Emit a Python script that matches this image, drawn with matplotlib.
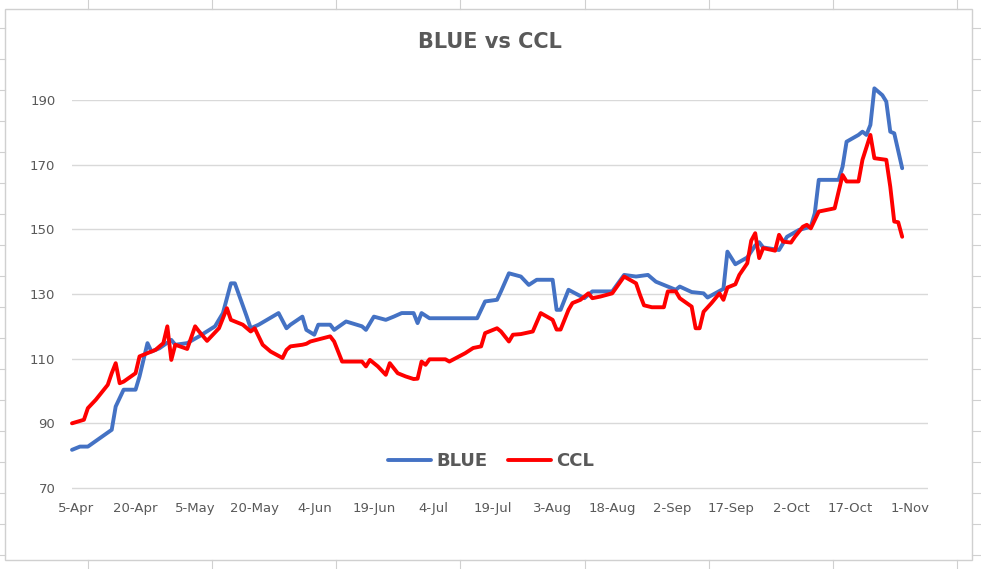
import numpy as np
import pandas as pd
import matplotlib
matplotlib.use("Agg")
import matplotlib.pyplot as plt
from matplotlib.patches import Rectangle
from matplotlib.lines import Line2D

# datos (año 2020, fechas MM-DD)
anio = 2020
fechas_blue = ["04-04", "04-06", "04-08", "04-11", "04-14", "04-15", "04-17", "04-20", "04-21", "04-23",
               "04-24", "04-26", "04-29", "04-30", "05-03", "05-06", "05-10", "05-12", "05-14", "05-15",
               "05-18", "05-19", "05-21", "05-26", "05-28", "05-29", "06-01", "06-02", "06-04", "06-05",
               "06-08", "06-09", "06-12", "06-16", "06-17", "06-19", "06-22", "06-24", "06-26", "06-29",
               "06-30", "07-01", "07-03", "07-15", "07-17", "07-20", "07-21", "07-23", "07-26", "07-28",
               "07-30", "08-03", "08-04", "08-05", "08-07", "08-11", "08-13", "08-18", "08-21", "08-24",
               "08-27", "08-29", "09-02", "09-03", "09-04", "09-07", "09-10", "09-11", "09-15", "09-16",
               "09-18", "09-21", "09-23", "09-24", "09-25", "09-29", "10-01", "10-04", "10-07", "10-08",
               "10-09", "10-14", "10-15", "10-16", "10-19", "10-20", "10-21", "10-22", "10-23", "10-25",
               "10-26", "10-27", "10-28", "10-30"]
valores_blue = [81.8, 82.8, 82.8, 85.4, 88.0, 95.2, 100.4, 100.4, 104.5, 114.8,
                112.2, 113.2, 115.8, 114.3, 114.8, 116.9, 120.0, 124.1, 133.3, 133.3,
                123.0, 119.4, 120.5, 124.1, 119.4, 120.5, 123.0, 118.9, 117.4, 120.5,
                120.5, 118.9, 121.5, 120.0, 118.9, 123.0, 122.0, 123.0, 124.1, 124.1,
                121.0, 124.1, 122.5, 122.5, 127.7, 128.2, 130.8, 136.4, 135.4, 132.8,
                134.4, 134.4, 125.1, 125.1, 131.3, 128.7, 130.8, 130.8, 135.9, 135.4,
                135.9, 133.8, 131.8, 131.3, 132.3, 130.6, 130.2, 128.9, 131.6, 143.1,
                139.2, 141.3, 145.0, 146.0, 144.4, 143.6, 147.7, 149.8, 150.8, 155.0,
                165.3, 165.3, 169.4, 177.1, 179.2, 180.2, 179.2, 182.3, 193.6, 191.5,
                189.5, 180.2, 179.7, 168.9]

fechas_ccl = ["04-04", "04-07", "04-08", "04-10", "04-13", "04-14", "04-15", "04-16", "04-17", "04-20",
              "04-21", "04-23", "04-25", "04-27", "04-28", "04-29", "04-30", "05-03", "05-05", "05-06",
              "05-08", "05-11", "05-12", "05-13", "05-14", "05-17", "05-19", "05-20", "05-22", "05-24",
              "05-27", "05-28", "05-29", "06-01", "06-02", "06-03", "06-08", "06-09", "06-11", "06-16",
              "06-17", "06-18", "06-20", "06-22", "06-23", "06-25", "06-27", "06-29", "06-30", "07-01",
              "07-02", "07-03", "07-07", "07-08", "07-12", "07-14", "07-16", "07-17", "07-20", "07-21",
              "07-23", "07-24", "07-26", "07-29", "07-31", "08-03", "08-04", "08-05", "08-07", "08-08",
              "08-10", "08-12", "08-13", "08-15", "08-18", "08-21", "08-24", "08-25", "08-26", "08-28",
              "08-31", "09-01", "09-03", "09-04", "09-07", "09-08", "09-09", "09-10", "09-12", "09-14",
              "09-15", "09-16", "09-18", "09-19", "09-21", "09-22", "09-23", "09-24", "09-25", "09-28",
              "09-29", "09-30", "10-02", "10-03", "10-05", "10-06", "10-07", "10-09", "10-13", "10-14",
              "10-15", "10-16", "10-19", "10-20", "10-22", "10-23", "10-26", "10-27", "10-28", "10-29",
              "10-30"]
valores_ccl = [90.0, 91.1, 94.7, 97.3, 101.9, 105.5, 108.6, 102.4, 102.9, 105.5,
               110.7, 111.7, 112.7, 114.8, 120.0, 109.6, 114.3, 113.0, 120.0, 118.4,
               115.5, 119.4, 122.5, 125.6, 122.0, 120.5, 118.4, 119.4, 114.3, 112.2,
               110.2, 112.7, 113.8, 114.3, 114.6, 115.3, 116.9, 115.3, 109.1, 109.1,
               107.6, 109.6, 107.6, 105.0, 108.6, 105.5, 104.5, 103.7, 103.8, 109.1,
               108.1, 109.8, 109.8, 109.1, 111.7, 113.3, 113.8, 117.9, 119.4, 118.4,
               115.3, 117.4, 117.6, 118.4, 124.1, 122.0, 119.0, 119.0, 125.1, 127.2,
               128.2, 130.2, 128.7, 129.2, 130.2, 135.4, 133.3, 129.7, 126.5, 125.9,
               125.9, 130.8, 130.8, 128.7, 126.1, 119.4, 119.4, 124.5, 127.2, 130.2,
               128.2, 132.0, 133.0, 135.9, 139.5, 146.5, 148.8, 141.1, 144.2, 143.4,
               148.3, 146.2, 145.9, 147.7, 150.8, 151.4, 150.3, 155.5, 156.5, 161.7,
               166.8, 164.8, 164.8, 171.5, 179.2, 172.0, 171.5, 163.2, 152.4, 152.2,
               147.7]

etiquetas_x = ["5-Apr", "20-Apr", "5-May", "20-May", "4-Jun", "19-Jun", "4-Jul", "19-Jul",
               "3-Aug", "18-Aug", "2-Sep", "17-Sep", "2-Oct", "17-Oct", "1-Nov"]
ticks_y = [70, 90, 110, 130, 150, 170, 190]

gris = "#595959"
azul = "#4472C4"
rojo = "#FF0000"

x_blue = pd.to_datetime([f"{anio}-{f}" for f in fechas_blue])
x_ccl = pd.to_datetime([f"{anio}-{f}" for f in fechas_ccl])
x_ticks = pd.to_datetime([f"{e} {anio}" for e in etiquetas_x], format="%d-%b %Y")

fig = plt.figure(figsize=(9.81, 5.69), dpi=100)

# cuadricula de la hoja de calculo alrededor del grafico
W, H = 981, 569
for xc in [88, 212, 336, 460, 585, 709, 833, 957]:
    fig.add_artist(Line2D([xc / W, xc / W], [1, 1 - 9 / H], color="#D0D0D0", lw=0.8))
    fig.add_artist(Line2D([xc / W, xc / W], [0, 1 - 560 / H], color="#D0D0D0", lw=0.8))
for yr in np.arange(28, 560, 31):
    fig.add_artist(Line2D([0, 5 / W], [1 - yr / H] * 2, color="#D0D0D0", lw=0.8))
    fig.add_artist(Line2D([972 / W, 1], [1 - yr / H] * 2, color="#D0D0D0", lw=0.8))
fig.add_artist(Rectangle((5 / W, 1 - 560 / H), 967 / W, 551 / H, fill=False,
                         edgecolor="#D0D0D0", lw=1.0))

# el eje y va de 69.5 a 190 para que la linea de 70 no quede recortada
ax = fig.add_axes([72 / W, 1 - 489.6 / H, 856 / W, 389.6 / H])
ax.plot(x_blue, valores_blue, color=azul, lw=2.8, label="BLUE", clip_on=False,
        solid_joinstyle="round", solid_capstyle="round")
ax.plot(x_ccl, valores_ccl, color=rojo, lw=2.8, label="CCL", clip_on=False,
        solid_joinstyle="round", solid_capstyle="round")

ax.set_ylim(69.5, 190)
ax.set_yticks(ticks_y)
ax.set_xlim(x_ticks[0] - pd.Timedelta(days=1), x_ticks[0] + pd.Timedelta(days=214.5))
ax.set_xticks(x_ticks)
ax.set_xticklabels(etiquetas_x)
ax.grid(axis="y", color="#D9D9D9", lw=1.0)
ax.set_axisbelow(True)
for s in ax.spines.values():
    s.set_visible(False)
ax.tick_params(axis="both", length=0, colors=gris, labelsize=9.5)
ax.tick_params(axis="y", pad=12)
ax.tick_params(axis="x", pad=9)

fig.text(490 / W, 1 - 42 / H, "BLUE vs CCL", ha="center", va="center",
         fontsize=15, fontweight="bold", color=gris)

leg = ax.legend(loc="center", bbox_to_anchor=(491 / W, 1 - 461 / H),
                bbox_transform=fig.transFigure, ncol=2, frameon=False,
                handlelength=2.4, handletextpad=0.3, columnspacing=1.1,
                prop={"weight": "bold", "size": 13})
for t in leg.get_texts():
    t.set_color(gris)

fig.savefig("out.png", dpi=100)
